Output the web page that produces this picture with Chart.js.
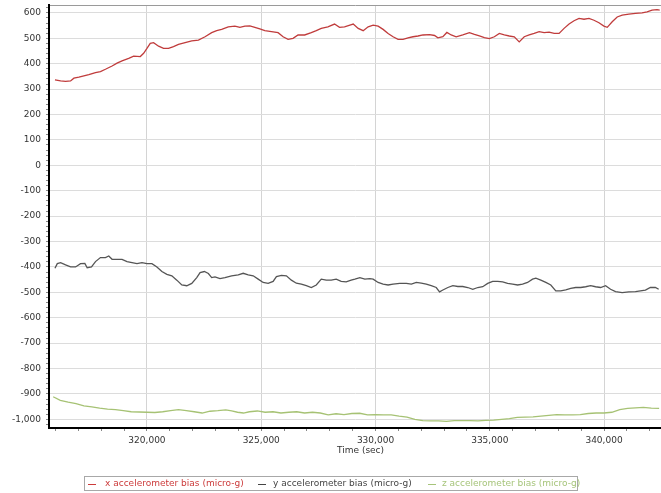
<!DOCTYPE html>
<html>
<head>
<meta charset="utf-8">
<script src="https://cdn.jsdelivr.net/npm/chart.js@4/dist/chart.umd.min.js"></script>
<style>
  html, body { margin: 0; padding: 0; background: #fff; }
  #wrap { position: relative; width: 661px; height: 493px; overflow: hidden; }
  #c { position: absolute; left: 0; top: 0; }
  .txt { position: absolute; font-family: 'DejaVu Sans', Verdana, sans-serif; font-size: 9px; white-space: nowrap; line-height: 11px; }
  #legend { position: absolute; left: 84px; top: 476px; width: 494px; height: 15px; border: 1px solid #a8a8a8; box-sizing: border-box; }
  .mk { position: absolute; top: 7px; width: 8px; height: 1px; }
</style>
</head>
<body>
<div id="wrap">
  <canvas id="c" width="661" height="493"></canvas>
  <div class="txt" id="xtitle" style="left:337px; top:445px; color:#333;">Time (sec)</div>
  <div id="legend"></div>
</div>
<script>
// ---- data ----
const seriesNames = [
  'x accelerometer bias (micro-g)',
  'y accelerometer bias (micro-g)',
  'z accelerometer bias (micro-g)'
];

const xBiasTime = [315974,316221,316439,316657,316802,317020,317238,317456,317747,317964,318182,318473,318691,318909,319200,319418,319708,319854,319999,320144,320290,320508,320726,320943,321161,321379,321670,321960,322251,322541,322832,323050,323268,323558,323849,324067,324285,324503,324721,324939,325157,325447,325738,325956,326174,326392,326610,326900,327191,327409,327627,327917,328208,328426,328644,328880,329025,329243,329461,329679,329897,330115,330333,330551,330769,330987,331205,331423,331641,331859,332077,332367,332585,332730,332948,333123,333312,333530,333820,334111,334329,334547,334765,334983,335201,335419,335637,335854,336072,336290,336508,336726,336944,337162,337380,337598,337816,338034,338252,338470,338688,338906,339124,339342,339560,339778,339995,340141,340358,340576,340794,341085,341375,341666,341884,342102,342320,342436];
const xBiasValue = [336,332,330,332,343,347,352,357,365,369,378,391,402,411,421,430,428,441,460,480,483,469,460,460,467,476,483,490,493,506,522,530,535,545,548,543,548,549,543,537,530,526,522,506,496,500,513,513,522,530,539,545,556,543,545,552,556,539,530,545,552,548,535,519,506,496,496,502,506,509,513,514,511,502,506,523,513,506,513,522,515,509,503,499,506,519,513,509,506,486,506,513,519,526,522,524,519,519,539,556,569,578,575,578,571,561,548,543,565,584,591,595,598,600,604,611,613,611];

const yBiasTime = [315974,316076,316221,316439,316657,316875,317093,317282,317384,317573,317747,317964,318182,318328,318473,318691,318909,319127,319345,319563,319781,319999,320217,320435,320653,320871,321088,321306,321524,321742,321960,322178,322324,322512,322687,322832,322977,323195,323413,323704,323994,324212,324430,324648,324866,325084,325302,325520,325665,325883,326101,326319,326537,326755,326973,327191,327409,327627,327845,328063,328281,328499,328717,328935,329098,329316,329534,329752,329897,330115,330333,330551,330769,331060,331351,331568,331786,332004,332222,332440,332658,332803,332948,333166,333384,333602,333820,334038,334256,334474,334692,334910,335128,335346,335564,335782,336000,336218,336436,336654,336872,337017,337235,337453,337671,337889,338107,338324,338542,338760,338978,339196,339414,339632,339850,340068,340286,340504,340794,341085,341375,341593,341811,342029,342247,342392];
const yBiasValue = [-405,-387,-383,-392,-400,-400,-387,-386,-403,-400,-379,-363,-363,-357,-370,-370,-370,-379,-383,-387,-383,-387,-387,-400,-418,-429,-435,-452,-471,-474,-465,-442,-422,-418,-426,-442,-439,-446,-442,-435,-431,-425,-431,-435,-448,-461,-465,-457,-438,-433,-435,-452,-464,-468,-474,-481,-471,-448,-452,-452,-448,-457,-459,-452,-448,-442,-448,-446,-448,-461,-468,-471,-468,-465,-465,-468,-461,-464,-468,-474,-481,-498,-491,-481,-474,-477,-477,-481,-488,-481,-478,-465,-457,-457,-459,-465,-468,-471,-468,-461,-448,-444,-452,-461,-471,-494,-494,-490,-484,-481,-481,-478,-474,-478,-481,-474,-488,-497,-501,-498,-497,-494,-491,-481,-481,-488];

const zBiasTime = [315896,316207,316551,316896,317241,317586,317930,318275,318620,318965,319310,319655,320000,320344,320689,321034,321379,321723,322068,322413,322758,323103,323447,323706,323964,324223,324482,324826,325171,325516,325861,326206,326551,326895,327240,327585,327930,328275,328620,328964,329309,329654,329999,330344,330688,331033,331378,331723,332068,332412,332757,333102,333447,333791,334136,334481,334826,335171,335515,335860,336205,336550,336894,337239,337584,337929,338274,338618,338963,339308,339653,339997,340342,340687,341032,341377,341721,342066,342411];
const zBiasValue = [-911,-925,-932,-938,-947,-951,-956,-960,-962,-966,-970,-971,-972,-973,-970,-966,-962,-966,-970,-975,-968,-966,-963,-967,-972,-975,-970,-967,-972,-970,-975,-972,-970,-975,-972,-975,-982,-978,-981,-977,-976,-982,-981,-982,-982,-987,-991,-1000,-1005,-1006,-1006,-1008,-1005,-1005,-1005,-1006,-1004,-1003,-1000,-997,-992,-991,-990,-987,-984,-981,-982,-982,-981,-977,-975,-975,-972,-962,-957,-955,-953,-956,-957];

const xTickLabels = [320000, 325000, 330000, 335000, 340000];
const yTickLabels = [600, 500, 400, 300, 200, 100, 0, -100, -200, -300, -400, -500, -600, -700, -800, -900, -1000];
const xRange = [315713, 342493];
const yRange = [-1034, 631];
const xMinorStep = 1000;
const yMinorStep = 20;

// ---- styling ----
const lineColors = ['#c03c3c', '#555555', '#a6c274'];
const legendTextColors = ['#cc3b3b', '#444444', '#a6c47a'];
const FONT = "'DejaVu Sans', Verdana, sans-serif";

function pairs(ts, vs) { return ts.map((t, i) => ({ x: t, y: vs[i] })); }
function stepTicks(range, step) {
  const out = [];
  for (let v = Math.ceil(range[0] / step) * step; v <= range[1]; v += step) out.push({ value: v });
  return out;
}

const datasets = [
  [xBiasTime, xBiasValue],
  [yBiasTime, yBiasValue],
  [zBiasTime, zBiasValue]
].map((s, i) => ({
  label: seriesNames[i],
  data: pairs(s[0], s[1]),
  borderColor: lineColors[i],
  borderWidth: 1.3,
  pointRadius: 0,
  tension: 0,
  fill: false
}));

const fmt = v => v.toLocaleString('en-US');

new Chart(document.getElementById('c'), {
  type: 'line',
  data: { datasets },
  options: {
    responsive: false,
    animation: false,
    layout: { padding: { top: 5, left: 0, right: 0, bottom: 0 } },
    plugins: { legend: { display: false }, tooltip: { enabled: false } },
    scales: {
      x: {
        type: 'linear', position: 'bottom', min: xRange[0], max: xRange[1],
        afterBuildTicks: s => { s.ticks = stepTicks(xRange, xMinorStep); },
        ticks: {
          autoSkip: false, maxRotation: 0,
          padding: 4, color: '#333', font: { family: FONT, size: 9 },
          callback: v => xTickLabels.includes(v) ? fmt(v) : ''
        },
        grid: {
          color: ctx => (ctx.tick && xTickLabels.includes(ctx.tick.value)) ? '#d4d4d4' : 'rgba(0,0,0,0)',
          tickColor: '#888', tickLength: 3, lineWidth: 1
        },
        border: { color: '#000', width: 2 },
        afterFit: s => { s.height = 65; s.paddingLeft = 0; s.paddingRight = 0; }
      },
      xTop: {
        type: 'linear', position: 'top', min: xRange[0], max: xRange[1],
        ticks: { display: false },
        grid: { display: false },
        border: { color: '#9a9a9a', width: 1 },
        afterFit: s => { s.height = 0; s.paddingLeft = 0; s.paddingRight = 0; }
      },
      y: {
        type: 'linear', position: 'left', min: yRange[0], max: yRange[1],
        afterBuildTicks: s => { s.ticks = stepTicks(yRange, yMinorStep); },
        ticks: {
          autoSkip: false,
          padding: 5, color: '#333', font: { family: FONT, size: 9 },
          callback: v => yTickLabels.includes(v) ? fmt(v) : ''
        },
        grid: {
          color: ctx => (ctx.tick && yTickLabels.includes(ctx.tick.value)) ? '#dcdcdc' : 'rgba(0,0,0,0)',
          tickColor: '#888', tickLength: 3, lineWidth: 1
        },
        border: { color: '#000', width: 2 },
        afterFit: s => { s.width = 49; s.paddingTop = 0; s.paddingBottom = 0; }
      }
    }
  }
});

// ---- legend (real text) ----
const legend = document.getElementById('legend');
const legendPos = [[3, 20], [173, 188], [343, 357]];
seriesNames.forEach((name, i) => {
  const mk = document.createElement('div');
  mk.className = 'mk';
  mk.style.left = legendPos[i][0] + 'px';
  mk.style.background = legendTextColors[i];
  legend.appendChild(mk);
  const t = document.createElement('div');
  t.className = 'txt';
  t.style.left = legendPos[i][1] + 'px';
  t.style.top = '1px';
  t.style.color = legendTextColors[i];
  t.textContent = name;
  legend.appendChild(t);
});
</script>
</body>
</html>
